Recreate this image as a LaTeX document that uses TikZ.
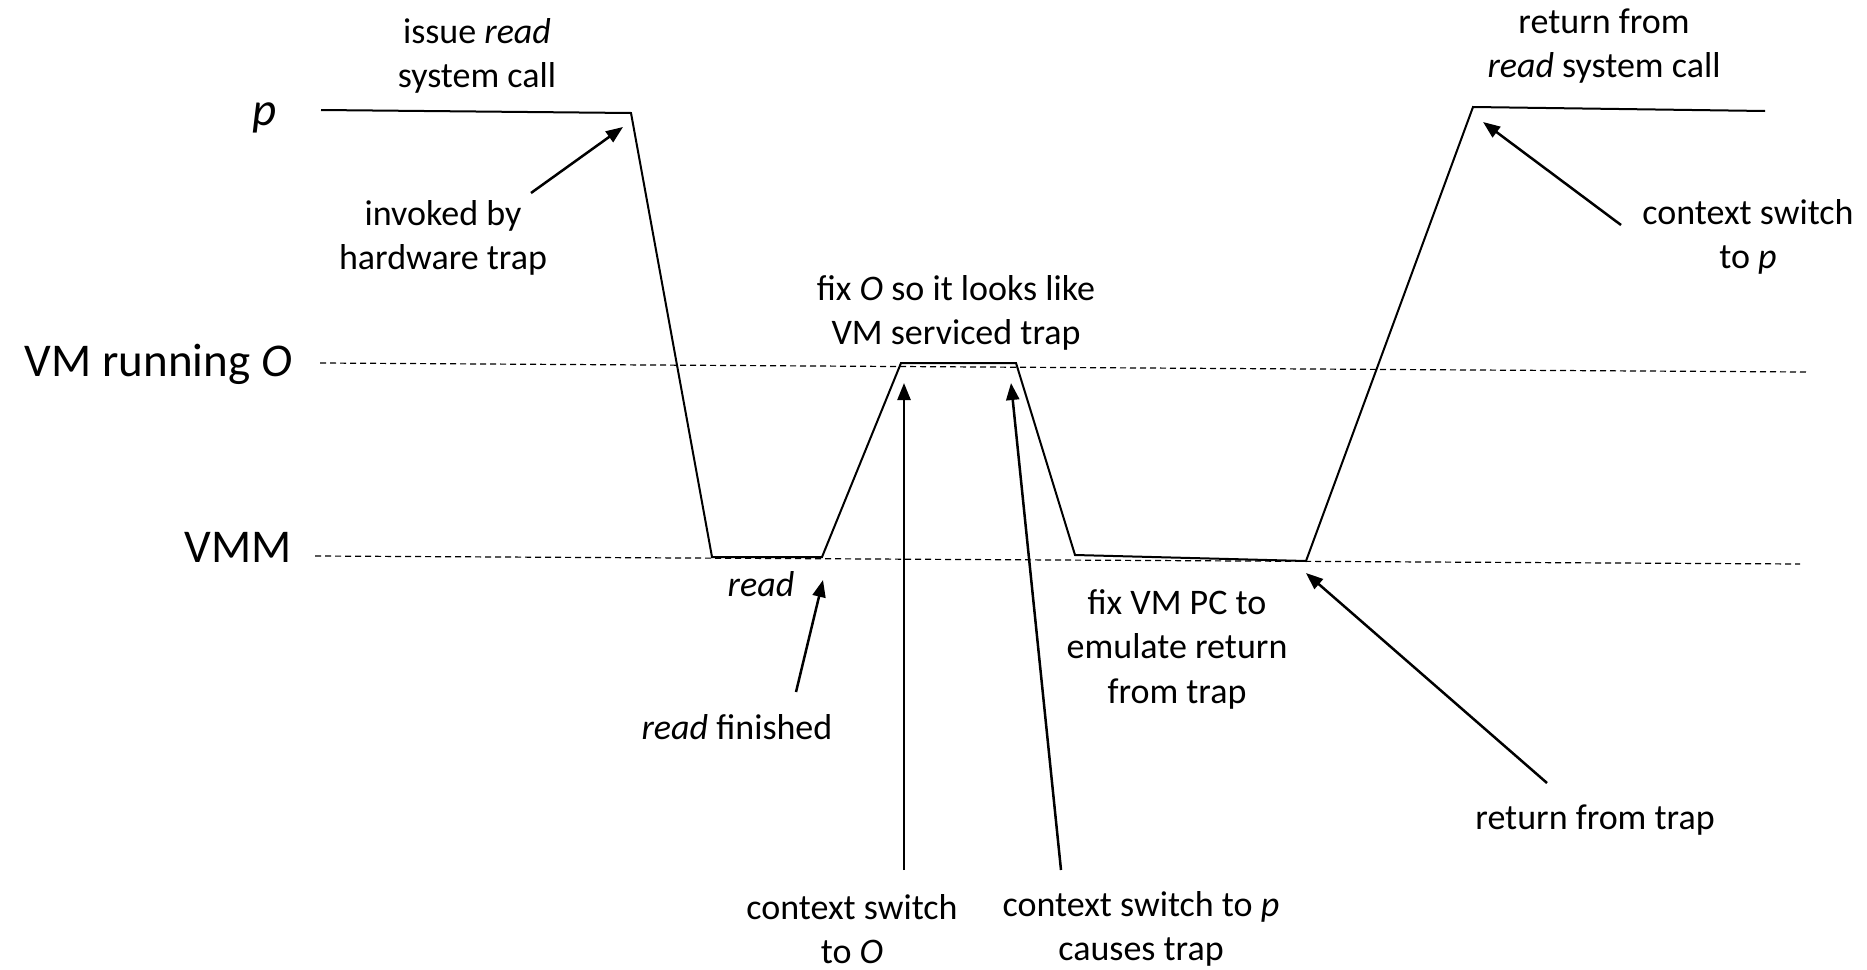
\documentclass[tikz,border=0pt]{standalone}
\usepackage{fontspec}
\setmainfont{Carlito}
\usetikzlibrary{arrows.meta}
\begin{document}
\begin{tikzpicture}[x=1pt,y=-1pt,
  lbl/.style={align=center, font=\fontsize{36}{44.5}\selectfont, inner sep=0pt},
  big/.style={font=\fontsize{47}{56}\selectfont, inner sep=0pt},
  tl/.style={line width=2pt, line join=miter},
  lvl/.style={line width=1.2pt, dash pattern=on 6pt off 4pt},
  arr/.style={line width=2.5pt, -{Triangle[length=17pt,width=13pt]}}]
\useasboundingbox (0,0) rectangle (1867,969);

% level labels
\node[big, anchor=base] (lp) at (265,125) {\itshape p};
\node[big, anchor=base east] (lvm) at (292,376) {VM running \textit{O}};
\node[big, anchor=base east] (lvmm) at (292,562) {VMM};

% level lines
\coordinate (vmA) at (320,363);
\coordinate (vmB) at (1806,372);
\coordinate (vmmA) at (315,556);
\coordinate (vmmB) at (1800,564);
\draw[lvl] (vmA) -- (vmB);
\draw[lvl] (vmmA) -- (vmmB);

% timeline
\coordinate (t0) at (321,110);
\coordinate (t1) at (631,113);
\coordinate (t2) at (712,557);
\coordinate (t3) at (822,557);
\coordinate (t4) at (901,363);
\coordinate (t5) at (1016,363);
\coordinate (t6) at (1075,555);
\coordinate (t7) at (1306,561);
\coordinate (t8) at (1473,107);
\coordinate (t9) at (1765,111);
\draw[tl] (t0) -- (t1) -- (t2) -- (t3) -- (t4) -- (t5) -- (t6) -- (t7) -- (t8) -- (t9);

% labels
\node[lbl] (issue) at (477,56) {issue \textit{read}\\system call};
\node[lbl] (invoked) at (443,238) {invoked by\\hardware trap};
\node[lbl] (fixO) at (956,313) {fix \textit{O} so it looks like\\VM serviced trap};
\node[lbl] (retread) at (1604,46) {return from\\\textit{read} system call};
\node[lbl] (csp) at (1748,237) {context switch\\to \textit{p}};
\node[lbl] (read) at (761,584) {\textit{read}};
\node[lbl] (readfin) at (737,727) {\textit{read} finished};
\node[lbl] (fixpc) at (1177,649) {fix VM PC to\\emulate return\\from trap};
\node[lbl] (cso) at (852,929) {context switch\\to \textit{O}};
\node[lbl] (cspt) at (1141,929) {context switch to \textit{p}\\causes trap};
\node[lbl] (rft) at (1595,820) {return from trap};

% arrows
\coordinate (aInvT) at (531,193);   \coordinate (aInvH) at (623,127);
\coordinate (aRfT) at (796,692);    \coordinate (aRfH) at (823,580);
\coordinate (aCoT) at (904,870);    \coordinate (aCoH) at (904,383);
\coordinate (aCpT) at (1061,870);   \coordinate (aCpH) at (1011,383);
\coordinate (aRtT) at (1547,783);   \coordinate (aRtH) at (1306,573);
\coordinate (aSpT) at (1621,225);   \coordinate (aSpH) at (1483,122);
\draw[arr] (aInvT) -- (aInvH);
\draw[arr] (aRfT) -- (aRfH);
\draw[arr] (aCoT) -- (aCoH);
\draw[arr] (aCpT) -- (aCpH);
\draw[arr] (aRtT) -- (aRtH);
\draw[arr] (aSpT) -- (aSpH);
\end{tikzpicture}
\end{document}
